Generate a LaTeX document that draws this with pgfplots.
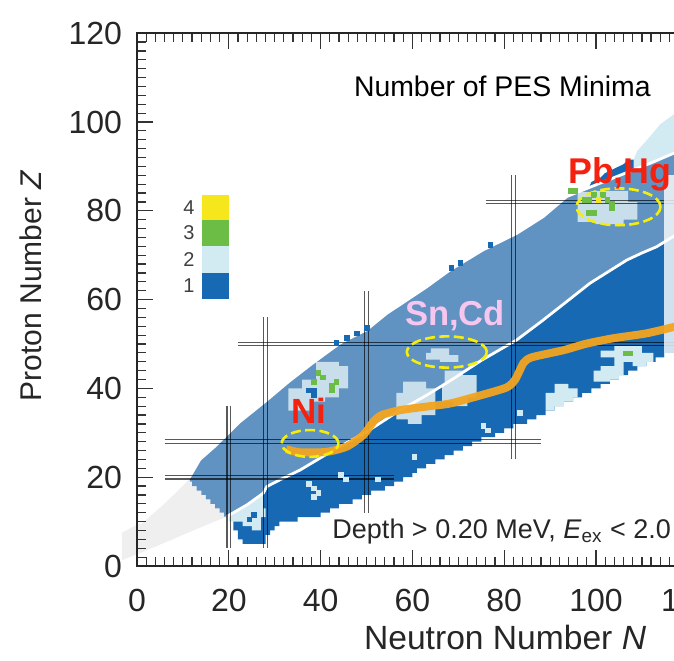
\documentclass[border=0pt]{standalone}
\usepackage{pgfplots}
\pgfplotsset{compat=1.18}
\usepackage{fontspec}
\setmainfont{Liberation Sans}

\definecolor{one}{HTML}{1769B3}
\definecolor{two}{HTML}{D2EAF2}
\definecolor{three}{HTML}{6CBD45}
\definecolor{four}{HTML}{F6E71C}
\definecolor{known}{HTML}{6092C2}
\definecolor{twok}{HTML}{C8DEEA}
\definecolor{lightnuc}{HTML}{EFEFEF}
\definecolor{fermi}{HTML}{F3A51F}
\definecolor{ring}{HTML}{F5EE0A}
\definecolor{pbred}{HTML}{F4210F}
\definecolor{snpink}{HTML}{F6C6EE}

\pgfplotsset{
  region/.style={draw=none, fill=#1, forget plot},
  cell/.style={only marks, mark=square*, mark size=1.15pt, color=#1,
               mark options={line width=0pt}, forget plot},
  magic/.style={black, opacity=0.65, line width=0.55pt, forget plot},
  boundary/.style={white, line width=1.4pt, forget plot},
}

\begin{document}
\begin{tikzpicture}
\begin{axis}[
  x=2.295pt, y=2.22pt,
  xmin=0, xmax=126, ymin=0, ymax=120,
  clip=false,
  axis on top,
  axis line style={line width=0.8pt, black!85},
  xtick={0,20,...,120}, ytick={0,20,...,120},
  minor x tick num=9, minor y tick num=9,
  tick align=inside,
  major tick length=8pt, minor tick length=4.5pt,
  tick style={line width=0.6pt, black!80},
  every tick label/.append style={font=\fontsize{16}{16}\selectfont, text=black!85},
  xticklabel style={yshift=-8pt},
  yticklabel style={xshift=-4pt},
  /pgf/number format/assume math mode=true,
]

% light nuclei below the chart band
\addplot[region=lightnuc] coordinates {
  (-3.3,1.3) (-3.3,7.5) (0.6,9.6) (6,14.5) (11.5,20.1)
  (11.5,19) (12,19) (12,18) (13,18) (13,17) (14,17) (14,16) (15,16) (15,15)
  (16,15) (16,14) (17,14) (17,13) (18,13) (18,12) (19,12) (19,11.1) (19.5,11.1)
  (15,9.2) (10,7) (5,4.8) (0.6,2.9)
} -- cycle;

% single-minimum region (full band)
\addplot[region=one] coordinates {
  (21,12.1) (21,8) (22,8) (22,6) (23,6) (23,5) (28,5) (28,7) (29,7) (29,8) (30,8)
  (30,9) (31,9) (31,10) (35,10) (35,11) (40,11) (40,12) (42,12) (42,13) (44,13)
  (44,14) (47,14) (47,15) (49,15) (49,16) (51,16) (51,17) (54,17) (54,18) (56,18)
  (56,19) (58,19) (58,20) (60,20) (60,21) (61,21) (61,22) (63,22) (63,23) (65,23)
  (65,24) (67,24) (67,25) (69,25) (69,26) (71,26) (71,27) (73,27) (73,28) (75,28)
  (75,29) (78,29) (78,30) (80,30) (80,31) (82,31) (82,32) (85,32) (85,33) (87,33)
  (87,34) (89,34) (89,35) (91,35) (91,36) (93,36) (93,37) (95,37) (95,38) (97,38)
  (97,39) (99,39) (99,40) (101,40) (101,41) (103,41) (103,42) (105,42) (105,43)
  (107,43) (107,44) (109,44) (109,45) (111,45) (111,46) (113,46) (113,47) (115,47)
  (115,48) (117,48) (117,49) (119,49) (119,50) (126,50)
  (126,96.5) (116.8,92.9) (111.8,90.7) (104.5,87.7) (97.2,84.7) (93.6,83.2)
  (88.5,78.7) (82.7,74.9) (75.4,71.2) (68.2,66.7) (63,62.8) (58.8,59.9) (54.4,56.9)
  (50,53.2) (44.2,50.2) (38,45.5) (33,41.5) (28.3,37.4) (22.4,32.5) (21,31)
} -- cycle;

% two-minima patches inside the single-minimum band
\addplot[region=two] coordinates {
  (20,11.3) (20,10) (23,10) (23,9) (25,9) (25,8) (27,8) (27,11) (28,11) (28,13)
  (27.5,13) (27.5,16.4) (24,13.8)} -- cycle;
\addplot[region=two] coordinates {
  (89,35) (91,35) (91,36) (93,36) (93,37) (95,37) (95,38) (96,38) (96,40) (94,40)
  (94,41) (91,41) (91,39) (89,39)} -- cycle;
\addplot[region=two] coordinates {
  (99.5,41.5) (103,41.5) (103,42) (105,42) (105,43) (106,43) (106,46) (104,46)
  (104,45) (101,45) (101,44) (99.5,44)} -- cycle;
\addplot[region=two] coordinates {
  (101,47) (104,47) (104,46) (108,46) (108,45) (111,45) (111,46) (112.5,46)
  (112.5,48) (110,48) (110,49.5) (104,49.5) (104,48.5) (101,48.5)} -- cycle;
\addplot[cell=two] coordinates {
  (37.5,18.5) (38.5,17.5) (39.5,16.5) (38.5,15.5) (44.5,20.5) (45.5,19.5)
  (75.5,31.5) (76.5,30.5) (52.5,19.5) (60.5,24.5) (83.5,34.5)};
\addplot[cell=one] coordinates {(24.5,10.5) (25.5,11.5)};

% region of known nuclei (lighter overlay)
\addplot[region=known] coordinates {
  (11.5,20.1) (13.7,24) (17,27) (22.4,32.5) (28.3,37.4) (33,41.5) (38,45.5)
  (44.2,50.2) (50,53.2) (54.4,56.9) (58.8,59.9) (63,62.8) (68.2,66.7) (75.4,71.2)
  (82.7,74.9) (88.5,78.7) (93.6,83.2) (97.2,84.7) (104.5,87.7) (111.8,90.7)
  (116.8,92.9) (126,96.5)
  (126,79) (116.8,74.2) (113.2,71.9) (110,70.5) (106.7,68.9) (103,66.5) (98.7,63.7)
  (92.2,58.4) (88,55) (82.7,50.9) (75,46.3) (68.2,41.7) (63,38.4) (57.3,35.1)
  (50,30.2) (42.8,26.1) (35.5,21.6) (31.5,19.6) (28.3,17.9) (27.5,16.4) (24,13.8)
  (19.5,11.1) (19,11.1) (19,12) (18,12) (18,13) (17,13) (17,14) (16,14) (16,15)
  (15,15) (15,16) (14,16) (14,17) (13,17) (13,18) (12,18) (12,19) (11.5,19)
} -- cycle;

% two-minima patches inside the known region
\addplot[region=twok] coordinates {
  (33,35) (38,35) (38,37) (41,37) (41,38) (44,38) (44,40) (46,40) (46,45) (44,45)
  (44,46) (39,46) (39,42) (36,42) (36,40) (33,40)} -- cycle;
\addplot[region=twok] coordinates {
  (56.5,33) (59,33) (59,32) (62,32) (62,34) (65,34) (65,40) (63,40) (63,41.5)
  (58,41.5) (58,39) (56.5,39)} -- cycle;
\addplot[region=twok] coordinates {
  (66.5,37) (69,37) (69,36) (72,36) (72,38) (74,38) (74,43) (71,43) (71,44)
  (67,44) (67,41) (66.5,41)} -- cycle;
\addplot[region=twok] coordinates {
  (63,46.5) (66,46.5) (66,46) (70,46) (70,47.5) (68,47.5) (68,49) (64,49)
  (64,48) (63,48)} -- cycle;
\addplot[region=twok] coordinates {
  (96,77.5) (100,77.5) (100,77) (106,77) (106,78) (109,78) (109,82) (107,82)
  (107,84.5) (100,84.5) (100,84.2) (96,84.2)} -- cycle;
\addplot[cell=one] coordinates {(37.5,39.5) (38.5,39.5) (38.5,38.5)};

% neutron-deficient edge beyond the known region
\addplot[region=two] coordinates {
  (107,88.8) (109,93.5) (112,97) (114,99.5) (118,102.5) (118,93.2) (111.8,90.7)} -- cycle;
\addplot[region=one] coordinates {
  (97.2,84.7) (98.5,85.3) (99,86.5) (101,87.5) (102,88.5) (104,89.5) (106,90.5)
  (107,91.5) (108.2,91.5) (108.2,89.3) (104.5,87.7)} -- cycle;
\addplot[cell=one] coordinates {
  (43.5,50.2) (45.7,51.4) (47.9,52.4) (50.1,53.6) (68.5,67.1) (70.5,68.3) (77,72.3)};

% three and four minima
\addplot[cell=three] coordinates {
  (39.5,43.5) (40.5,42.5) (42.5,40.5) (43.5,41.5) (42.5,39.5) (38.5,41.5)
  (106.5,47.9) (107.5,47.9)
  (97.5,82.5) (98.5,82.5) (99.5,83.5) (101.5,83.5) (102.5,82.5) (98.5,79.5)
  (99.5,79.5) (103.5,81.5) (103.5,80.5) (94.5,84.5) (95.5,84.5)};
\addplot[cell=four] coordinates {(100.5,82.5)};

% region boundaries
\addplot[boundary] coordinates {
  (0.6,9.6) (6,14.5) (11.5,20.1) (13.7,24) (17,27) (22.4,32.5) (28.3,37.4)
  (33,41.5) (38,45.5) (44.2,50.2) (50,53.2) (54.4,56.9) (58.8,59.9) (63,62.8)
  (68.2,66.7) (75.4,71.2) (82.7,74.9) (88.5,78.7) (93.6,83.2) (97.2,84.7)
  (104.5,87.7) (111.8,90.7) (116.8,92.9) (126,96.5)};
\addplot[boundary] coordinates {
  (19.5,11.1) (24,13.8) (27.5,16.4) (28.3,17.9) (31.5,19.6) (35.5,21.6)
  (42.8,26.1) (50,30.2) (57.3,35.1) (63,38.4) (68.2,41.7) (75,46.3) (82.7,50.9)
  (88,55) (92.2,58.4) (98.7,63.7) (103,66.5) (106.7,68.9) (110,70.5) (113.2,71.9)
  (116.8,74.2) (126,79)};

% magic numbers
\addplot[magic] coordinates {(19.6,4) (19.6,36)};
\addplot[magic] coordinates {(20.4,4) (20.4,36)};
\addplot[magic] coordinates {(27.6,4) (27.6,56)};
\addplot[magic] coordinates {(28.4,4) (28.4,56)};
\addplot[magic] coordinates {(49.6,12) (49.6,62)};
\addplot[magic] coordinates {(50.4,12) (50.4,62)};
\addplot[magic] coordinates {(81.6,24) (81.6,88)};
\addplot[magic] coordinates {(82.4,24) (82.4,88)};
\addplot[magic] coordinates {(6,19.6) (56,19.6)};
\addplot[magic] coordinates {(6,20.4) (56,20.4)};
\addplot[magic] coordinates {(6,27.6) (88,27.6)};
\addplot[magic] coordinates {(6,28.4) (88,28.4)};
\addplot[magic] coordinates {(22,49.6) (126,49.6)};
\addplot[magic] coordinates {(22,50.4) (126,50.4)};
\addplot[magic] coordinates {(76,81.6) (126,81.6)};
\addplot[magic] coordinates {(76,82.4) (126,82.4)};

% faded right edge
\fill[white, opacity=0.8] (axis cs:114.9,44) rectangle (axis cs:118,88);

% line of beta stability
\addplot[fermi, line width=4pt, opacity=0.95, smooth, tension=0.4, forget plot] coordinates {
  (32.5,26.3) (35.5,25.6) (41.3,25.7) (45.7,26.9) (49.3,29.5) (51.5,32.5)
  (53.3,34) (57.3,35.1) (63,35.9) (68.2,36.6) (74.7,38.4) (80.5,40.2) (82.4,42)
  (84.2,45.7) (86,47) (92.9,48.6) (98,50.1) (103.8,51.3) (111,52.4) (118,54.1)};

% highlighted nuclei
\draw[ring, line width=1.3pt, dash pattern=on 5pt off 2.2pt]
  (axis cs:37.7,27.6) ellipse [x radius=14.2pt, y radius=6.7pt];
\draw[ring, line width=1.3pt, dash pattern=on 5pt off 2.2pt]
  (axis cs:67.5,48.2) ellipse [x radius=20pt, y radius=7.8pt];
\draw[ring, line width=1.3pt, dash pattern=on 5pt off 2.2pt]
  (axis cs:104.9,80.9) ellipse [x radius=21pt, y radius=9.2pt];

\node[pbred, font=\fontsize{17.5}{17.5}\selectfont\bfseries] at (axis cs:37.5,35) {Ni};
\node[snpink, font=\fontsize{17.3}{17.3}\selectfont\bfseries] at (axis cs:69.3,56.3) {Sn,Cd};
\node[pbred, font=\fontsize{17.9}{17.9}\selectfont\bfseries] at (axis cs:105.2,88.3) {Pb,Hg};

% colour key
\fill[four]  (axis cs:14.1,77.9) rectangle (axis cs:20.1,83.6);
\fill[three] (axis cs:14.1,72.1) rectangle (axis cs:20.1,77.9);
\fill[two]   (axis cs:14.1,66.1) rectangle (axis cs:20.1,72.1);
\fill[one]   (axis cs:14.1,60.1) rectangle (axis cs:20.1,66.1);
\begin{scope}[every node/.style={anchor=east, inner sep=0pt, text=black!75,
    font=\fontsize{10}{10}\selectfont}]
  \node at (axis cs:12.6,80.75) {4};
  \node at (axis cs:12.6,75.0) {3};
  \node at (axis cs:12.6,69.1) {2};
  \node at (axis cs:12.6,63.1) {1};
\end{scope}

\node[font=\fontsize{14.2}{14.2}\selectfont] at (axis cs:79.6,108) {Number of PES Minima};
\node[anchor=base west, inner sep=0pt, font=\fontsize{13.5}{13.5}\selectfont, text=black!85]
  at (axis cs:42.5,6.3) {Depth > 0.20 MeV, \textit{E}\textsubscript{ex} < 2.0 MeV};

% axis titles
\node[font=\fontsize{16.8}{16.8}\selectfont, text=black!85] at (axis cs:80.2,-16.2)
  {Neutron Number \textit{N}};
\node[rotate=90, font=\fontsize{15}{15}\selectfont, text=black!85] at (axis cs:-23.1,63.1)
  {Proton Number \textit{Z}};
\end{axis}
\pgfresetboundingbox
\path[use as bounding box] (-68.5pt,-47pt) rectangle (268.5pt,283pt);
\end{tikzpicture}
\end{document}
